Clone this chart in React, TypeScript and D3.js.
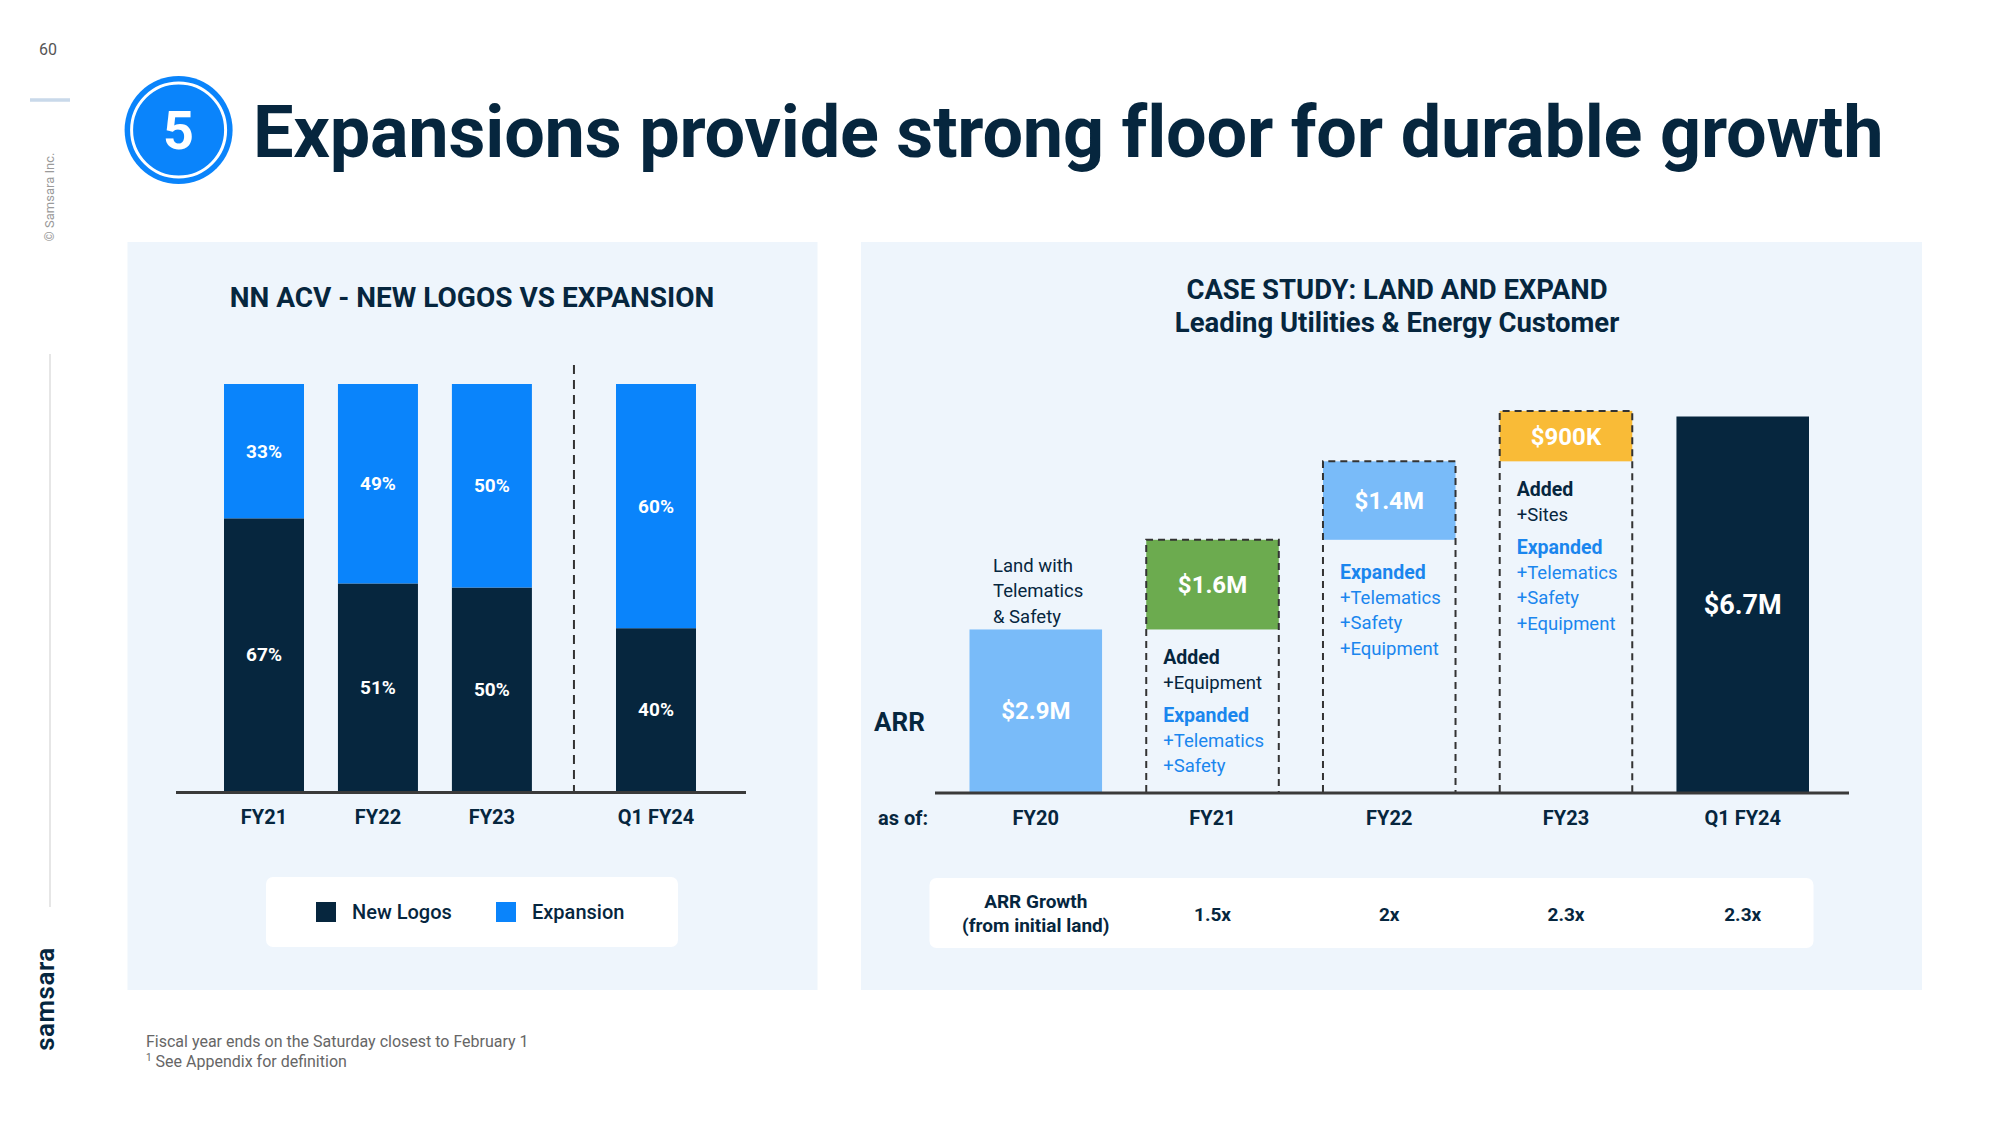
import React from "react";
import * as d3 from "d3";

// ---------- data ----------
const mixCategories = ["FY21", "FY22", "FY23", "Q1 FY24"];
const newLogosPct = [67, 51, 50, 40];
const expansionPct = [33, 49, 50, 60];

const arrCategories = ["FY20", "FY21", "FY22", "FY23", "Q1 FY24"];
const arrSteps = [2.9, 1.6, 1.4, 0.9]; // land, then annual expansions (M$)
const arrTotal = 6.7; // Q1 FY24 ARR (M$)
const arrLabels = ["$2.9M", "$1.6M", "$1.4M", "$900K", "$6.7M"];
const growthLabels = ["1.5x", "2x", "2.3x", "2.3x"];
const landNote = ["Land with", "Telematics", "& Safety"];
const addedNotes = [["+Equipment"], [], ["+Sites"]];
const expandedNotes = [
  ["+Telematics", "+Safety"],
  ["+Telematics", "+Safety", "+Equipment"],
  ["+Telematics", "+Safety", "+Equipment"],
];

// ---------- styles ----------
const NAVY = "#06263e";
const BLUE = "#0a84fb";
const LIGHT_BLUE = "#79bbf9";
const GREEN = "#6cab4f";
const YELLOW = "#f9bb37";
const TEXT_BLUE = "#1a86ee";
const PANEL = "#eef5fc";
const FONT = "Roboto, 'Noto Sans', sans-serif";

export default function App() {
  // ---- left chart scales ----
  const slot = [0, 1, 2, 3.44];
  const xMix = d3.scaleLinear().domain([0, 3.44]).range([264, 656]);
  const yMix = d3.scaleLinear().domain([0, 100]).range([791, 384]);
  const mixBarW = 80;

  // ---- right chart scales ----
  const xArr = d3.scaleBand().domain(arrCategories).range([969.5, 1809]).paddingInner(0.25).paddingOuter(0);
  const yArr = d3.scaleLinear().domain([0, 6.7]).range([792, 416.5]);
  const bw = xArr.bandwidth();

  // cumulative segments
  const cum: number[] = [];
  arrSteps.reduce((acc, v) => { cum.push(acc + v); return acc + v; }, 0);
  const segs = arrCategories.map((c, i) => {
    if (i === 0) return { c, y0: 0, y1: arrSteps[0], color: LIGHT_BLUE, dashed: false };
    if (i === arrCategories.length - 1) return { c, y0: 0, y1: arrTotal, color: NAVY, dashed: false };
    return { c, y0: cum[i - 1], y1: cum[i], color: [GREEN, LIGHT_BLUE, YELLOW][i - 1], dashed: true };
  });

  const lineH = 25.5;
  const groupGap = 32;

  return (
    <svg width={2000} height={1125} style={{ position: "absolute", left: 0, top: 0, background: "#fff" }} fontFamily={FONT}>
      <rect x={0} y={0} width={2000} height={1125} fill="#fff" />
      {/* sidebar */}
      <text x={48} y={49} textAnchor="middle" dy="0.35em" fontSize={16} fill="#555">60</text>
      <line x1={30} x2={70} y1={100} y2={100} stroke="#c9d9ea" strokeWidth={3.5} />
      <text transform="translate(49,197) rotate(-90)" textAnchor="middle" dy="0.35em" fontSize={13} fill="#9a9a9a">© Samsara Inc.</text>
      <line x1={50} x2={50} y1={354} y2={907} stroke="#e6e6e6" strokeWidth={2} />
      <text transform="translate(47,999) rotate(-90)" textAnchor="middle" dy="0.26em" fontSize={26} fontWeight={600} fill={NAVY} letterSpacing={0.5}>samsara</text>

      {/* header */}
      <circle cx={178.6} cy={130} r={54} fill={BLUE} />
      <circle cx={178.6} cy={130} r={47} fill="none" stroke="#fff" strokeWidth={3} />
      <text x={178.6} y={130} textAnchor="middle" dy="0.36em" fontSize={54} fontWeight={700} fill="#fff">5</text>
      <text x={253} y={157} fontSize={72} fontWeight={700} fill={NAVY} letterSpacing={-0.2}>Expansions provide strong floor for durable growth</text>

      {/* panels */}
      <rect x={127.5} y={242} width={690} height={748} fill={PANEL} />
      <rect x={861} y={242} width={1061} height={748} fill={PANEL} />

      {/* ---- left chart ---- */}
      <text x={472} y={307} textAnchor="middle" fontSize={28} fontWeight={700} fill={NAVY}>NN ACV - NEW LOGOS VS EXPANSION</text>
      {mixCategories.map((c, i) => {
        const cx = xMix(slot[i]);
        const yNew = yMix(newLogosPct[i]);
        const yTop = yMix(100);
        return (
          <g key={c}>
            <rect x={cx - mixBarW / 2} y={yNew} width={mixBarW} height={yMix(0) - yNew} fill={NAVY} />
            <rect x={cx - mixBarW / 2} y={yTop} width={mixBarW} height={yNew - yTop} fill={BLUE} />
            <text x={cx} y={(yNew + yMix(0)) / 2} textAnchor="middle" dy="0.35em" fontSize={19} fontWeight={700} fill="#fff">{newLogosPct[i]}%</text>
            <text x={cx} y={(yNew + yTop) / 2} textAnchor="middle" dy="0.35em" fontSize={19} fontWeight={700} fill="#fff">{expansionPct[i]}%</text>
            <text x={cx} y={817} textAnchor="middle" dy="0.35em" fontSize={20} fontWeight={700} fill={NAVY}>{c}</text>
          </g>
        );
      })}
      <line x1={176} x2={746} y1={792.5} y2={792.5} stroke="#3a3a3a" strokeWidth={3} />
      <line x1={(xMix(slot[2]) + xMix(slot[3])) / 2} x2={(xMix(slot[2]) + xMix(slot[3])) / 2} y1={365} y2={791} stroke="#333" strokeWidth={2} strokeDasharray="9 6" />

      {/* legend */}
      <rect x={266} y={877} width={412} height={70} rx={7} fill="#fff" />
      <rect x={316} y={902} width={20} height={20} fill={NAVY} />
      <text x={352} y={912} dy="0.35em" fontSize={20} fontWeight={500} fill={NAVY}>New Logos</text>
      <rect x={496} y={902} width={20} height={20} fill={BLUE} />
      <text x={532} y={912} dy="0.35em" fontSize={20} fontWeight={500} fill={NAVY}>Expansion</text>

      {/* ---- right chart ---- */}
      <text x={1397} y={299} textAnchor="middle" fontSize={27.5} fontWeight={700} fill={NAVY}>CASE STUDY: LAND AND EXPAND</text>
      <text x={1397} y={332} textAnchor="middle" fontSize={27.5} fontWeight={700} fill={NAVY}>Leading Utilities &amp; Energy Customer</text>

      {segs.map((s, i) => {
        const x = xArr(s.c)!;
        const yTop = yArr(s.y1);
        const yBot = yArr(s.y0);
        return (
          <g key={s.c}>
            <rect x={x} y={yTop} width={bw} height={yBot - yTop} fill={s.color} />
            {s.dashed && (
              <path d={`M${x},${yArr(0)} V${yTop} H${x + bw} V${yArr(0)}`} fill="none" stroke="#333" strokeWidth={2} strokeDasharray="7 5" />
            )}
            <text x={x + bw / 2} y={(yTop + yBot) / 2} textAnchor="middle" dy="0.35em" fontSize={i === 4 ? 27 : 24} fontWeight={700} fill="#fff">{arrLabels[i]}</text>
            <text x={x + bw / 2} y={818} textAnchor="middle" dy="0.35em" fontSize={20} fontWeight={700} fill={NAVY}>{s.c}</text>
          </g>
        );
      })}
      <line x1={935} x2={1849} y1={793} y2={793} stroke="#3a3a3a" strokeWidth={3} />

      {/* land note */}
      {landNote.map((t, j) => (
        <text key={t} x={xArr("FY20")! + 23.5} y={yArr(arrSteps[0]) - 13 - (landNote.length - 1 - j) * lineH} dy="0.35em" fontSize={18.5} fill={NAVY}>{t}</text>
      ))}

      {/* expansion notes */}
      {[1, 2, 3].map((i, k) => {
        const x = xArr(arrCategories[i])! + 17;
        const start = yArr(segs[i].y0) + (addedNotes[k].length ? 28 : 32);
        const lines: { t: string; bold: boolean; color: string; y: number }[] = [];
        let y = start;
        if (addedNotes[k].length) {
          lines.push({ t: "Added", bold: true, color: NAVY, y });
          addedNotes[k].forEach((t) => { y += lineH; lines.push({ t, bold: false, color: NAVY, y }); });
          y += groupGap;
        }
        lines.push({ t: "Expanded", bold: true, color: TEXT_BLUE, y });
        expandedNotes[k].forEach((t) => { y += lineH; lines.push({ t, bold: false, color: TEXT_BLUE, y }); });
        return (
          <g key={i}>
            {lines.map((l, j) => (
              <text key={j} x={x} y={l.y} dy="0.35em" fontSize={l.bold ? 19.5 : 18.5} fontWeight={l.bold ? 700 : 400} fill={l.color}>{l.t}</text>
            ))}
          </g>
        );
      })}

      <text x={874} y={722} dy="0.35em" fontSize={26} fontWeight={700} fill={NAVY}>ARR</text>
      <text x={878} y={818} dy="0.35em" fontSize={20} fontWeight={700} fill={NAVY}>as of:</text>

      {/* growth table */}
      <rect x={929.5} y={878} width={884} height={70} rx={7} fill="#fff" />
      <text x={xArr("FY20")! + bw / 2} y={901} textAnchor="middle" dy="0.35em" fontSize={19} fontWeight={700} fill={NAVY}>ARR Growth</text>
      <text x={xArr("FY20")! + bw / 2} y={925} textAnchor="middle" dy="0.35em" fontSize={19} fontWeight={700} fill={NAVY}>(from initial land)</text>
      {growthLabels.map((g, i) => (
        <text key={i} x={xArr(arrCategories[i + 1])! + bw / 2} y={914} textAnchor="middle" dy="0.35em" fontSize={19} fontWeight={700} fill={NAVY}>{g}</text>
      ))}

      {/* footnotes */}
      <text x={146} y={1047} fontSize={16} fill="#666">Fiscal year ends on the Saturday closest to February 1</text>
      <text x={146} y={1067} fontSize={16} fill="#666"><tspan fontSize={10} dy={-6}>1</tspan><tspan dy={6}> See Appendix for definition</tspan></text>
    </svg>
  );
}
